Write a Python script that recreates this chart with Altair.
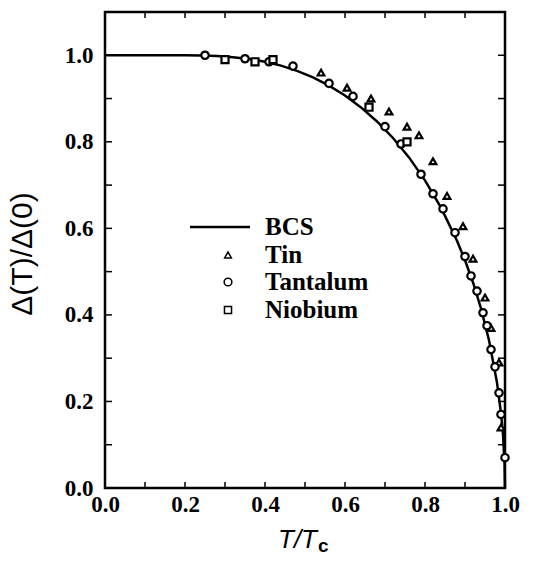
import altair as alt
import pandas as pd

# BCS curve (reduced gap vs reduced temperature)
bcs_t = [0.0, 0.18, 0.20, 0.24, 0.28, 0.32, 0.36, 0.40, 0.44, 0.48, 0.52, 0.56, 0.60,
         0.64, 0.68, 0.72, 0.76, 0.80, 0.84, 0.88, 0.90, 0.92, 0.94, 0.96, 0.98, 0.99,
         0.995, 0.999, 1.0]
bcs_d = [1.0, 1.0, 0.9999, 0.9994, 0.9982, 0.9957, 0.9915, 0.9850, 0.9760, 0.9641, 0.9488,
         0.9299, 0.9070, 0.8796, 0.8471, 0.8089, 0.7640, 0.7110, 0.6480, 0.5715, 0.5263,
         0.4749, 0.4148, 0.3416, 0.2436, 0.1730, 0.123, 0.055, 0.0]

# Tin (triangles)
sn_t = [0.54, 0.605, 0.665, 0.71, 0.755, 0.785, 0.82, 0.855, 0.895, 0.92, 0.95, 0.965, 0.985, 0.99]
sn_d = [0.96, 0.925, 0.90, 0.87, 0.835, 0.815, 0.755, 0.675, 0.605, 0.53, 0.44, 0.37, 0.29, 0.14]

# Tantalum (circles)
ta_t = [0.25, 0.35, 0.41, 0.47, 0.56, 0.62, 0.70, 0.74, 0.79, 0.82, 0.845, 0.875, 0.90,
        0.915, 0.93, 0.945, 0.955, 0.965, 0.975, 0.985, 0.99, 1.0]
ta_d = [1.0, 0.992, 0.985, 0.975, 0.935, 0.905, 0.835, 0.795, 0.725, 0.68, 0.645, 0.59,
        0.535, 0.49, 0.455, 0.405, 0.375, 0.32, 0.28, 0.22, 0.17, 0.07]

# Niobium (squares)
nb_t = [0.30, 0.375, 0.42, 0.66, 0.755]
nb_d = [0.99, 0.985, 0.99, 0.88, 0.80]

# axis ticks
x_minor = [0.1, 0.2, 0.3, 0.4, 0.5, 0.6, 0.7, 0.8, 0.9]
y_minor = [0.1, 0.2, 0.3, 0.4, 0.5, 0.6, 0.7, 0.8, 0.9, 1.0]
labels = [0.0, 0.2, 0.4, 0.6, 0.8, 1.0]

W, H = 400, 476
xs = alt.Scale(domain=[0, 1], nice=False)
ys = alt.Scale(domain=[0, 1.1], nice=False)

lab = dict(labelFont="Liberation Serif", labelFontWeight="bold", labelFontSize=23,
           labelColor="black", ticks=False, domain=False, grid=False, title=None,
           values=labels, format=".1f", labelFlush=False)

bcs = alt.Chart(pd.DataFrame({"t": bcs_t, "d": bcs_d})).mark_line(
    color="black", strokeWidth=2.5).encode(
    x=alt.X("t:Q", scale=xs, axis=alt.Axis(labelPadding=5, **lab)),
    y=alt.Y("d:Q", scale=ys, axis=alt.Axis(labelPadding=12, **lab)),
)

def pts(t, d, shape, size):
    return alt.Chart(pd.DataFrame({"t": t, "d": d})).mark_point(
        shape=shape, filled=True, fill="white", stroke="black", strokeWidth=2.2,
        size=size, opacity=1).encode(
        x=alt.X("t:Q", scale=xs),
        y=alt.Y("d:Q", scale=ys),
    )

sn = pts(sn_t, sn_d, "triangle-up", 45)
ta = pts(ta_t, ta_d, "circle", 55)
nb = pts(nb_t, nb_d, "square", 50)

xt = pd.DataFrame({"v": x_minor})
yt = pd.DataFrame({"v": y_minor})
tick_top = alt.Chart(xt).mark_rule(color="black", strokeWidth=1.5).encode(
    x=alt.X("v:Q", scale=xs), y=alt.value(0), y2=alt.value(6))
tick_bot = alt.Chart(xt).mark_rule(color="black", strokeWidth=1.5).encode(
    x=alt.X("v:Q", scale=xs), y=alt.value(H), y2=alt.value(H - 6))
tick_left = alt.Chart(yt).mark_rule(color="black", strokeWidth=1.5).encode(
    y=alt.Y("v:Q", scale=ys), x=alt.value(0), x2=alt.value(7))
tick_right = alt.Chart(yt).mark_rule(color="black", strokeWidth=1.5).encode(
    y=alt.Y("v:Q", scale=ys), x=alt.value(W), x2=alt.value(W - 7))

one = pd.DataFrame({"a": [0]})

def txt(s, x, y, **kw):
    return alt.Chart(one).mark_text(text=s, **kw).encode(x=alt.value(x), y=alt.value(y))

# legend
leg_line = alt.Chart(one).mark_rule(color="black", strokeWidth=2.5).encode(
    x=alt.value(85), x2=alt.value(145), y=alt.value(215))
leg_font = dict(font="Liberation Serif", fontWeight="bold", fontSize=25, align="left",
                baseline="middle", color="black")
leg_bcs = txt("BCS", 160, 215, **leg_font)
leg_tin = txt("Tin", 160, 243, **leg_font)
leg_ta = txt("Tantalum", 160, 270, **leg_font)
leg_nb = txt("Niobium", 160, 298, **leg_font)

def sym(shape, y, size):
    return alt.Chart(one).mark_point(shape=shape, filled=False, stroke="black",
                                     strokeWidth=1.5, size=size, opacity=1).encode(
        x=alt.value(123), y=alt.value(y))

sym_tin = sym("triangle-up", 243, 45)
sym_ta = sym("circle", 270, 60)
sym_nb = sym("square", 298, 50)

# axis titles
ytitle = txt("Δ(T)/Δ(0)", -82, 242, angle=270, font="Liberation Sans", fontSize=30,
             align="center", baseline="middle", color="black")
xtitle = txt("T/T", 212, 536, font="Liberation Sans", fontStyle="italic", fontSize=26,
             align="right", baseline="alphabetic", color="black")
xsub = txt("c", 213, 540, font="Liberation Sans", fontWeight="bold", fontSize=19,
           align="left", baseline="alphabetic", color="black")

chart = alt.layer(
    bcs, tick_top, tick_bot, tick_left, tick_right, sn, ta, nb,
    leg_line, leg_bcs, leg_tin, leg_ta, leg_nb, sym_tin, sym_ta, sym_nb,
    ytitle, xtitle, xsub,
).properties(
    width=W, height=H,
    autosize=alt.AutoSizeParams(type="none"),
    padding={"left": 105, "top": 12, "right": 44, "bottom": 79},
    background="white",
).configure_view(stroke="black", strokeWidth=2.5)

chart.save("out.html", embed_options={"renderer": "svg", "actions": False})
